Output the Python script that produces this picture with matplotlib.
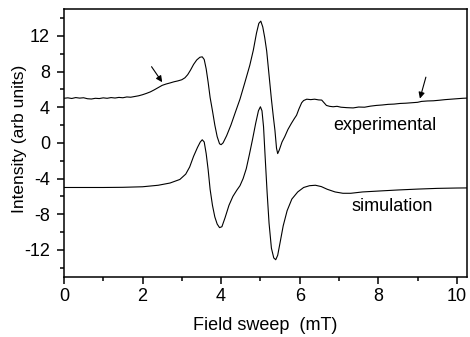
import matplotlib
matplotlib.use("Agg")
import matplotlib.pyplot as plt
from matplotlib.ticker import MultipleLocator

plt.rcParams['font.family'] = ['Liberation Sans', 'DejaVu Sans']
plt.rcParams['axes.unicode_minus'] = False

# experimental spectrum (offset +5)
exp_field = [0.0, 0.1, 0.2, 0.3, 0.4, 0.5, 0.6, 0.7, 0.8, 0.9, 1.0, 1.1, 1.2, 1.3, 1.4,
             1.5, 1.6, 1.7, 1.8, 1.9, 2.0, 2.1, 2.2, 2.3, 2.4, 2.5, 2.6, 2.7, 2.8, 2.9,
             3.0, 3.08, 3.15, 3.22, 3.3, 3.38, 3.46, 3.52, 3.57, 3.62, 3.67, 3.72, 3.78,
             3.84, 3.9, 3.96, 4.0, 4.05, 4.14, 4.25, 4.36, 4.48, 4.6, 4.73, 4.82, 4.9,
             4.96, 5.01, 5.06, 5.11, 5.16, 5.22, 5.28, 5.33, 5.37, 5.41, 5.44, 5.48,
             5.55, 5.62, 5.7, 5.79, 5.86, 5.92, 5.98, 6.05, 6.1, 6.18, 6.28, 6.38, 6.48,
             6.56, 6.62, 6.68, 6.76, 6.85, 6.95, 7.05, 7.2, 7.36, 7.5, 7.65, 7.8, 7.95,
             8.1, 8.25, 8.4, 8.55, 8.7, 8.85, 9.0, 9.1, 9.25, 9.4, 9.55, 9.7, 9.85,
             10.0, 10.15, 10.25]
exp_int = [5.0, 5.05, 4.98, 5.08, 5.02, 5.06, 4.95, 4.92, 5.0, 4.97, 5.05, 5.0, 5.08, 5.03,
           5.1, 5.06, 5.15, 5.12, 5.2, 5.28, 5.4, 5.55, 5.72, 5.95, 6.2, 6.45, 6.6, 6.72,
           6.85, 6.95, 7.08, 7.3, 7.65, 8.15, 8.8, 9.3, 9.6, 9.65, 9.35, 8.3, 6.8, 5.1,
           3.6, 2.0, 0.7, -0.1, -0.2, 0.0, 0.8, 2.0, 3.4, 4.9, 6.7, 8.7, 10.4, 12.3,
           13.4, 13.65, 13.0, 11.8, 10.3, 7.6, 4.9, 2.9, 1.4, -0.6, -1.2, -0.8, 0.1,
           0.7, 1.5, 2.2, 2.7, 3.1, 3.8, 4.5, 4.75, 4.9, 4.85, 4.9, 4.82, 4.8, 4.5,
           4.2, 4.1, 4.05, 4.1, 4.0, 3.95, 3.92, 4.02, 4.0, 4.12, 4.2, 4.25, 4.32,
           4.35, 4.42, 4.45, 4.5, 4.55, 4.65, 4.7, 4.72, 4.78, 4.85, 4.9, 4.95, 5.0,
           5.02]

# simulated spectrum (offset -5)
sim_field = [0.0, 1.0, 1.5, 2.0, 2.4, 2.7, 2.95, 3.1, 3.2, 3.3, 3.4, 3.47, 3.52, 3.57,
             3.62, 3.67, 3.72, 3.78, 3.84, 3.9, 3.96, 4.02, 4.1, 4.2, 4.3, 4.4, 4.48,
             4.56, 4.64, 4.72, 4.8, 4.88, 4.95, 5.0, 5.04, 5.08, 5.12, 5.17, 5.22, 5.28,
             5.34, 5.39, 5.44, 5.5, 5.58, 5.68, 5.8, 5.95, 6.1, 6.25, 6.4, 6.55, 6.7,
             6.9, 7.1, 7.3, 7.6, 8.0, 8.5, 9.0, 9.5, 10.0, 10.25]
sim_int = [-5.0, -5.0, -4.98, -4.92, -4.75, -4.5, -4.1, -3.5, -2.7, -1.5, -0.5, 0.1, 0.35,
           0.1, -1.2, -3.0, -5.2, -7.0, -8.3, -9.1, -9.5, -9.4, -8.4, -7.0, -6.0, -5.3,
           -4.8, -4.0, -2.9, -1.3, 0.4, 2.2, 3.6, 4.05, 3.6, 1.8, -1.5, -5.5, -9.0,
           -11.8, -12.9, -13.1, -12.6, -11.2, -9.3, -7.6, -6.3, -5.5, -5.0, -4.8, -4.75,
           -4.9, -5.2, -5.5, -5.65, -5.65, -5.5, -5.4, -5.28, -5.18, -5.1, -5.06, -5.05]

fig = plt.figure(figsize=(4.7, 3.37), dpi=100)
ax = fig.add_axes([0.136, 0.179, 0.857, 0.794])

ax.plot(exp_field, exp_int, color='black', lw=0.8)
ax.plot(sim_field, sim_int, color='black', lw=0.8)

ax.text(6.85, 2.0, 'experimental', fontsize=13, va='center', ha='left')
ax.text(7.32, -7.1, 'simulation', fontsize=13, va='center', ha='left')

# arrows pointing at the weak features
ax.annotate('', xy=(2.54, 6.55), xytext=(2.19, 8.8),
            arrowprops=dict(arrowstyle='-|>', color='black', lw=0.8, mutation_scale=9))
ax.annotate('', xy=(9.04, 4.67), xytext=(9.23, 7.67),
            arrowprops=dict(arrowstyle='-|>', color='black', lw=0.8, mutation_scale=9))

ax.set_xlim(0, 10.25)
ax.set_ylim(-15, 15)
ax.xaxis.set_major_locator(MultipleLocator(2))
ax.xaxis.set_minor_locator(MultipleLocator(1))
ax.yaxis.set_major_locator(MultipleLocator(4))
ax.yaxis.set_minor_locator(MultipleLocator(2))
ax.tick_params(which='major', direction='out', length=5, width=1.1, labelsize=13)
ax.tick_params(axis='y', which='major', pad=5)
ax.tick_params(which='minor', direction='out', length=3, width=1.1)
for sp in ax.spines.values():
    sp.set_linewidth(1.1)

ax.set_xlabel('Field sweep  (mT)', fontsize=13, labelpad=8)
# narrow face keeps the long y label within the axis height
ax.set_ylabel('Intensity (arb units)', fontsize=12.5,
              family=['Liberation Sans Narrow', 'Liberation Sans', 'DejaVu Sans'])
ax.yaxis.set_label_coords(-0.092, 0.515)

fig.savefig('out.png', dpi=100)
